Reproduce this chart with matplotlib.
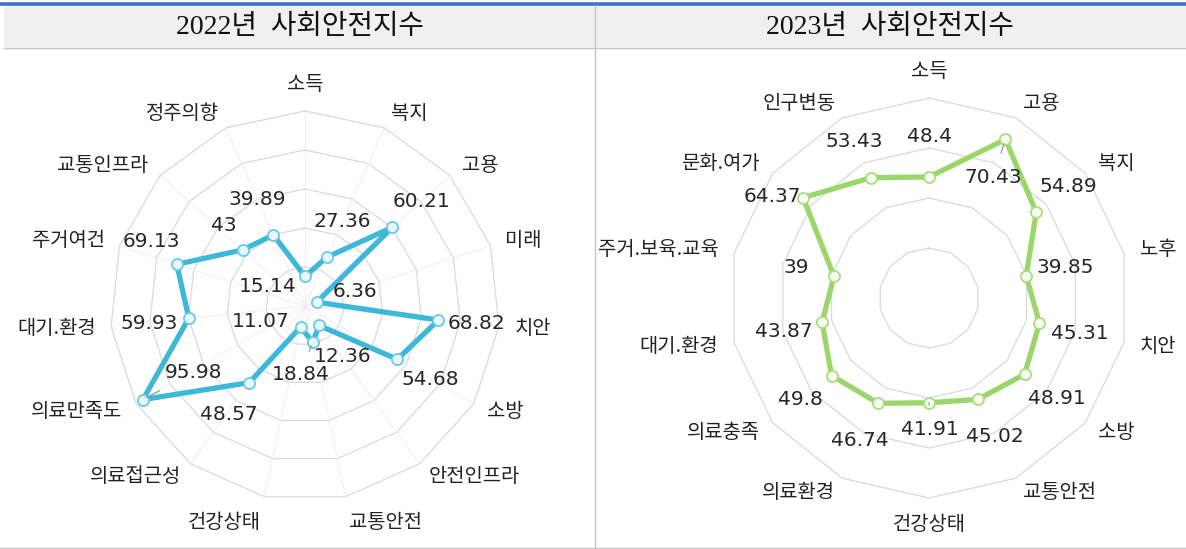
import numpy as np
import matplotlib
matplotlib.use("Agg")
import matplotlib.pyplot as plt
from matplotlib.patches import Rectangle

plt.rcParams['font.family'] = ['Noto Sans CJK KR', 'DejaVu Sans']

# ---- data -------------------------------------------------------------
title_2022 = "2022년  사회안전지수"
cats_2022 = ["소득", "복지", "고용", "미래", "치안", "소방", "안전인프라", "교통안전",
             "건강상태", "의료접근성", "의료만족도", "대기.환경", "주거여건", "교통인프라", "정주의향"]
vals_2022 = [15.14, 27.36, 60.21, 6.36, 68.82, 54.68, 12.36, 18.84,
             11.07, 48.57, 95.98, 59.93, 69.13, 43, 39.89]
rings_2022 = [20, 40, 60, 80, 100]

title_2023 = "2023년  사회안전지수"
cats_2023 = ["소득", "고용", "복지", "노후", "치안", "소방", "교통안전", "건강상태",
             "의료환경", "의료충족", "대기.환경", "주거.보육.교육", "문화.여가", "인구변동"]
vals_2023 = [48.4, 70.43, 54.89, 39.85, 45.31, 48.91, 45.02, 41.91,
             46.74, 49.8, 43.87, 39, 64.37, 53.43]
rings_2023 = [20, 40, 60, 80]

# value-label offsets from each point (pixels, x right / y down)
offs_2022 = [(-37, 10), (16, -36), (29, -26), (38, -11), (38, 3), (33, 20), (23, 31),
             (-12, 33), (-40, -6), (-21, 32), (51, -27), (-40, 5), (-25, -23),
             (-19, -24), (-16, -35)]
lead_2022 = [7, 10]
offs_2023 = [(1, -41), (-12, 38), (32, -26), (39, -8), (40, 10), (32, 24), (17, 37),
             (1, 27), (-18, 37), (-31, 24), (-38, 9), (-38, -9), (-31, -1), (-17, -36)]
lead_2023 = [1, 7]

W, H = 1186, 549
fig = plt.figure(figsize=(W / 100, H / 100), dpi=100)
fig.patch.set_facecolor("white")

# ---- page frame: header band, rules, titles ---------------------------
bg = fig.add_axes([0, 0, 1, 1])
bg.set_xlim(0, W)
bg.set_ylim(H, 0)
bg.axis("off")
bg.add_patch(Rectangle((4, 6), W - 4, 41, fc="#f0f0f0", ec="none"))
bg.plot([0, W], [4, 4], color="#4472c4", lw=2.6, solid_capstyle="butt")
bg.plot([4, W], [47.5, 47.5], color="#c4c4c4", lw=1.0)
bg.plot([595, 595], [6, H], color="#c4c4c4", lw=1.0)
bg.plot([0, W], [547.5, 547.5], color="#c4c4c4", lw=1.0)
title_font = ["Liberation Serif", "Noto Sans CJK KR"]
bg.text(300, 27, title_2022, ha="center", va="center", fontsize=20,
        family=title_font, color="#111111")
bg.text(890, 27, title_2023, ha="center", va="center", fontsize=20,
        family=title_font, color="#111111")


def radar(cx, cy, R, cats, vals, rings, offs, leads, color, mface, medge, spokes):
    ax = fig.add_axes([(cx - R) / W, (H - cy - R) / H, 2 * R / W, 2 * R / H],
                      projection="polar")
    ax.set_theta_zero_location("N")
    ax.set_theta_direction(-1)
    rmax = rings[-1]
    ax.set_ylim(0, rmax)
    ax.grid(False)
    ax.set_xticks([])
    ax.set_yticks([])
    ax.spines["polar"].set_visible(False)
    ax.patch.set_alpha(0)

    n = len(cats)
    theta = np.arange(n) * 2 * np.pi / n
    closed = np.append(theta, theta[0])

    for r in rings:
        ax.plot(closed, [r] * (n + 1), color="#d9d9d9", lw=0.9, clip_on=False, zorder=1)
    if spokes:
        for t in theta:
            ax.plot([t, t], [0, rmax], color="#f6e9ed", lw=0.6, zorder=1)

    v = np.array(vals, dtype=float)
    ax.plot(closed, np.append(v, v[0]), color=color, lw=3.8, zorder=3,
            solid_joinstyle="round", clip_on=False)
    ax.plot(theta, v, ls="none", marker="o", ms=8, mfc=mface, mec=medge, mew=1.3,
            zorder=4, clip_on=False)

    for i, (t, c) in enumerate(zip(theta, cats)):
        s, co = np.sin(t), np.cos(t)
        ha = "left" if s > 0.15 else ("right" if s < -0.15 else "center")
        if co > 0.97:
            va = "bottom"
        elif co < -0.97:
            va = "top"
        else:
            va = "center"
        ax.text(t, rmax * 1.08, c, ha=ha, va=va, fontsize=14.3, color="#222222", zorder=5)

    for i, (t, val) in enumerate(zip(theta, vals)):
        dx, dy = offs[i]
        kw = {}
        if i in leads:
            kw["arrowprops"] = dict(arrowstyle="-", color="#8c8c8c", lw=0.8,
                                    shrinkA=9, shrinkB=3)
        ax.annotate(f"{val:g}", xy=(t, val), xytext=(dx * 0.72, -dy * 0.72),
                    textcoords="offset points", ha="center", va="center",
                    fontsize=14.5, family="DejaVu Sans", color="#262626",
                    zorder=6, annotation_clip=False, **kw)
    return ax


radar(305, 306, 195, cats_2022, vals_2022, rings_2022, offs_2022, lead_2022,
      "#3db8d8", "#e6f8fc", "#6cc9e2", True)
radar(929, 298, 200, cats_2023, vals_2023, rings_2023, offs_2023, lead_2023,
      "#9bd66a", "#f6fcf0", "#a9dc80", False)

fig.savefig("out.png", dpi=100, facecolor="white")
